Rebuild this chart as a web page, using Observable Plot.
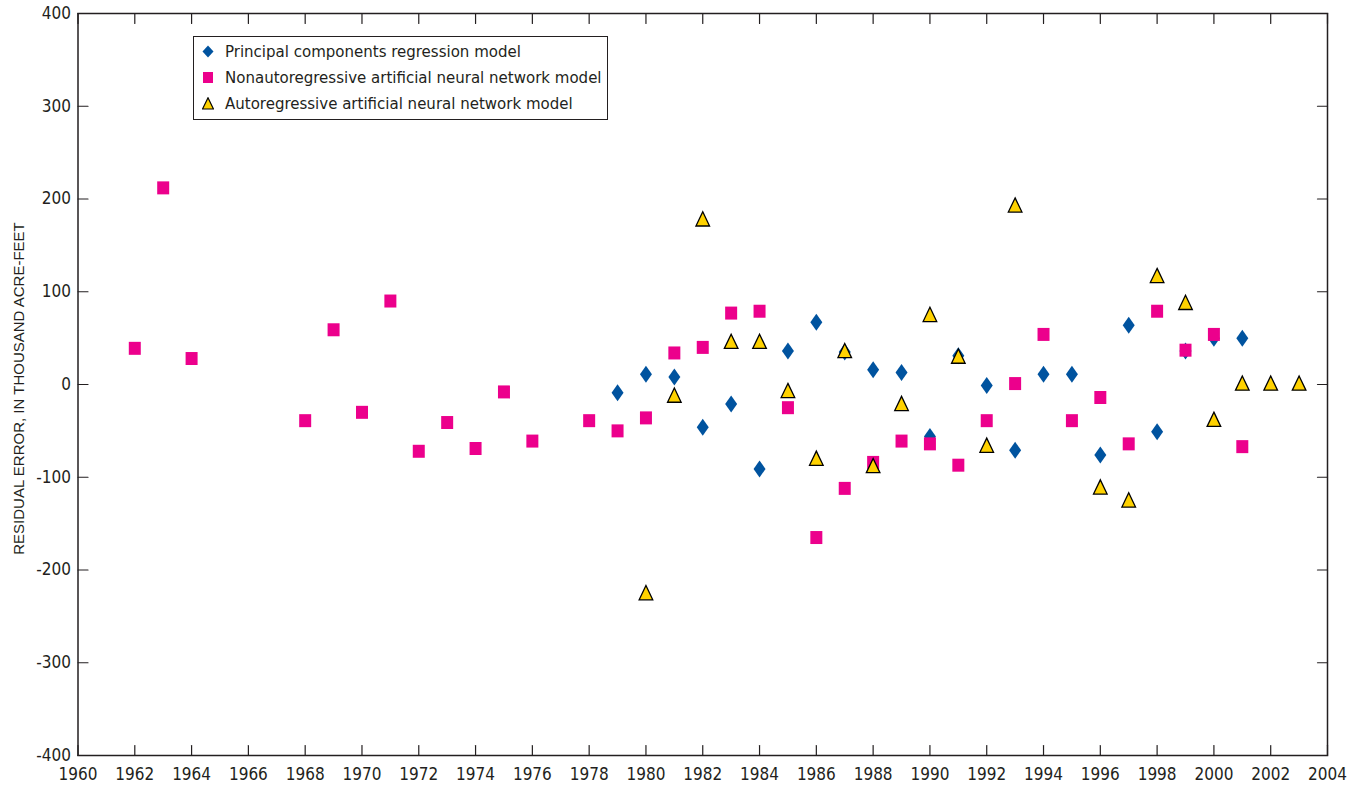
<!DOCTYPE html>
<html>
<head>
<meta charset="utf-8">
<script src="https://cdn.jsdelivr.net/npm/d3@7"></script>
<script src="https://cdn.jsdelivr.net/npm/@observablehq/plot@0.6"></script>
<style>
  html, body { margin: 0; padding: 0; background: #ffffff; }
  #wrap { position: relative; width: 1355px; height: 786px; }
  #legend {
    position: absolute; left: 193px; top: 36px; width: 413px; height: 82px;
    border: 1.3px solid #231f20; background: #fff; box-sizing: content-box;
    font-family: "Liberation Sans Narrow", "Arial Narrow", "DejaVu Sans Condensed", sans-serif;
    font-stretch: condensed; font-size: 16.7px; color: #231f20;
  }
  .row { position: absolute; left: 0; height: 26px; display: flex; align-items: center; white-space: nowrap; }
  .row svg { margin-left: 8px; margin-right: 11px; }
</style>
</head>
<body>
<div id="wrap"><div id="legend"></div></div>
<script>
// ---- data ----
const seriesNames = [
  "Principal components regression model",
  "Nonautoregressive artificial neural network model",
  "Autoregressive artificial neural network model"
];

const pcrYears  = [1979, 1980, 1981, 1982, 1983, 1984, 1985, 1986, 1987, 1988, 1989, 1990,
                   1991, 1992, 1993, 1994, 1995, 1996, 1997, 1998, 1999, 2000, 2001];
const pcrValues = [-9, 11, 8, -46, -21, -91, 36, 67, 35, 16, 13, -56,
                   31, -1, -71, 11, 11, -76, 64, -51, 36, 50, 50];

const nannYears  = [1962, 1963, 1964, 1968, 1969, 1970, 1971, 1972, 1973, 1974, 1975, 1976,
                    1978, 1979, 1980, 1981, 1982, 1983, 1984, 1985, 1986, 1987, 1988, 1989,
                    1990, 1991, 1992, 1993, 1994, 1995, 1996, 1997, 1998, 1999, 2000, 2001];
const nannValues = [39, 212, 28, -39, 59, -30, 90, -72, -41, -69, -8, -61,
                    -39, -50, -36, 34, 40, 77, 79, -25, -165, -112, -84, -61,
                    -64, -87, -39, 1, 54, -39, -14, -64, 79, 37, 54, -67];

const aannYears  = [1980, 1981, 1982, 1983, 1984, 1985, 1986, 1987, 1988, 1989, 1990, 1991,
                    1992, 1993, 1996, 1997, 1998, 1999, 2000, 2001, 2002, 2003];
const aannValues = [-225, -12, 178, 46, 46, -7, -80, 36, -88, -21, 75, 30,
                    -66, 193, -111, -125, 117, 88, -38, 1, 1, 1];

const xTicks = [1960, 1962, 1964, 1966, 1968, 1970, 1972, 1974, 1976, 1978, 1980, 1982,
                1984, 1986, 1988, 1990, 1992, 1994, 1996, 1998, 2000, 2002, 2004];
const yTicks = [-400, -300, -200, -100, 0, 100, 200, 300, 400];
const yLabel = "RESIDUAL ERROR, IN THOUSAND ACRE-FEET";

// ---- styles ----
const ink = "#231f20";
const colBlue = "#00539f";
const colPink = "#ec008c";
const colGold = "#ffd200";
const condensed = "'Liberation Sans Narrow', 'Arial Narrow', 'DejaVu Sans Condensed', sans-serif";

const diamondSym = {draw(c) { c.moveTo(0, -8.5); c.lineTo(6, 0); c.lineTo(0, 8.5); c.lineTo(-6, 0); c.closePath(); }};
const squareSym  = {draw(c) { c.rect(-6, -6.5, 12, 13); }};
const triSym     = {draw(c) { c.moveTo(0, -7.6); c.lineTo(6.8, 6.6); c.lineTo(-6.8, 6.6); c.closePath(); }};
const tickShape  = {draw(c, l) { c.moveTo(0, 0); c.lineTo(0, -l); }};

const pcr  = pcrYears.map((y, i) => ({year: y, value: pcrValues[i]}));
const nann = nannYears.map((y, i) => ({year: y, value: nannValues[i]}));
const aann = aannYears.map((y, i) => ({year: y, value: aannValues[i]}));

const chart = Plot.plot({
  width: 1355,
  height: 786,
  marginLeft: 77.5,
  marginRight: 28,
  marginTop: 13,
  marginBottom: 31,
  style: {fontFamily: condensed, fontSize: "17px", color: ink, background: "#fff"},
  x: {domain: [1960, 2004]},
  y: {domain: [-400, 400]},
  marks: [
    Plot.axisX({ticks: xTicks, tickSize: 0, tickPadding: 12, tickFormat: d => String(d), label: null, fill: ink}),
    Plot.axisY({ticks: yTicks, tickSize: 0, tickPadding: 7, tickFormat: d => String(d), label: null, fill: ink}),
    Plot.vector(xTicks, {x: d => d, frameAnchor: "bottom", rotate: 0, length: 10, anchor: "start", shape: tickShape, stroke: ink, strokeWidth: 1.2}),
    Plot.vector(xTicks, {x: d => d, frameAnchor: "top", rotate: 180, length: 10, anchor: "start", shape: tickShape, stroke: ink, strokeWidth: 1.2}),
    Plot.vector(yTicks, {y: d => d, frameAnchor: "left", rotate: 90, length: 10, anchor: "start", shape: tickShape, stroke: ink, strokeWidth: 1.2}),
    Plot.vector(yTicks, {y: d => d, frameAnchor: "right", rotate: -90, length: 10, anchor: "start", shape: tickShape, stroke: ink, strokeWidth: 1.2}),
    Plot.frame({stroke: ink, strokeWidth: 1.5}),
    Plot.text([yLabel], {frameAnchor: "left", textAnchor: "middle", lineAnchor: "middle", rotate: -90, dx: -59, dy: 4, fontFamily: "'Liberation Sans', Arial, sans-serif", fontSize: 15, letterSpacing: "0.2px", fill: ink}),
    Plot.dot(pcr,  {x: "year", y: "value", symbol: diamondSym, fill: colBlue, stroke: "none"}),
    Plot.dot(nann, {x: "year", y: "value", symbol: squareSym, fill: colPink, stroke: "none"}),
    Plot.dot(aann, {x: "year", y: "value", symbol: triSym, fill: colGold, stroke: "#000", strokeWidth: 1.3})
  ]
});
document.getElementById("wrap").prepend(chart);

// ---- legend ----
const legend = document.getElementById("legend");
const legendShapes = [
  `<polygon points="6,0.5 11.5,6.5 6,12.5 0.5,6.5" fill="${colBlue}"/>`,
  `<rect x="1" y="1" width="10" height="11" fill="${colPink}"/>`,
  `<polygon points="6,0.8 11.5,12 0.5,12" fill="${colGold}" stroke="#000" stroke-width="1.2"/>`
];
seriesNames.forEach((name, i) => {
  const row = document.createElement("div");
  row.className = "row";
  row.style.top = (1 + i * 26) + "px";
  row.innerHTML = `<svg width="12" height="13" viewBox="0 0 12 13">${legendShapes[i]}</svg><span>${name}</span>`;
  legend.appendChild(row);
});
</script>
</body>
</html>
